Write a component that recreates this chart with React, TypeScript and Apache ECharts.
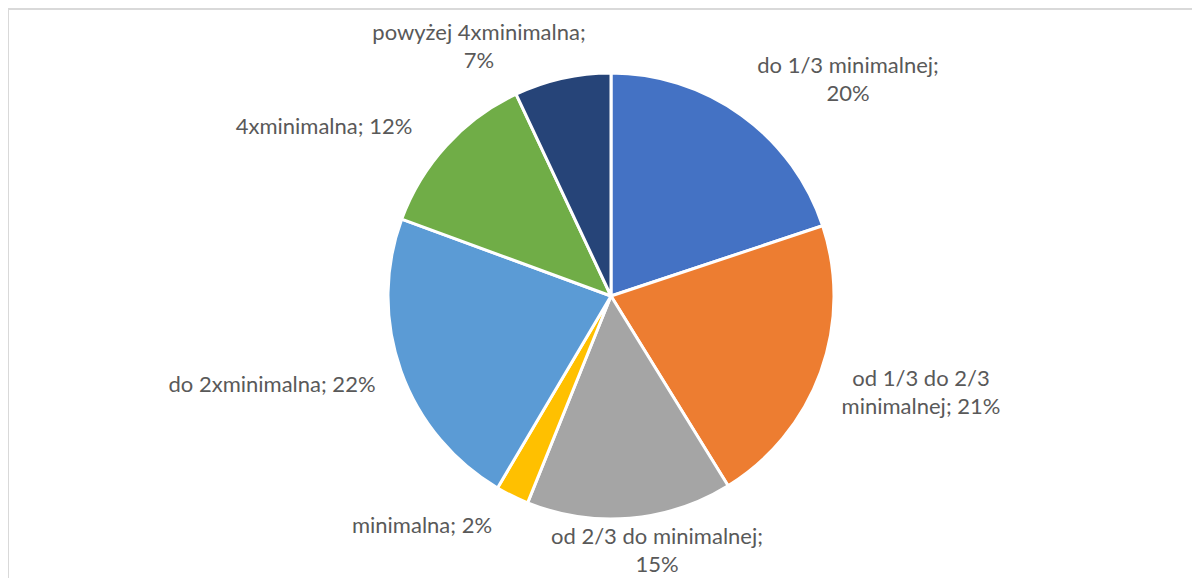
import React, { useEffect, useRef } from "react";
import * as echarts from "echarts";

const categories = [
  "do 1/3 minimalnej",
  "od 1/3 do 2/3 minimalnej",
  "od 2/3 do minimalnej",
  "minimalna",
  "do 2xminimalna",
  "4xminimalna",
  "powyżej 4xminimalna",
];
const values = [19.9, 21.3, 14.9, 2.4, 22.1, 12.4, 7.0];
const colors = ["#4472C4", "#ED7D31", "#A5A5A5", "#FFC000", "#5B9BD5", "#70AD47", "#264478"];
// label wrapping as in the reference
const displayNames = [
  "do 1/3 minimalnej",
  "od 1/3 do 2/3\nminimalnej",
  "od 2/3 do minimalnej",
  "minimalna",
  "do 2xminimalna",
  "4xminimalna",
  "powyżej 4xminimalna",
];
const separators = [";\n", "; ", ";\n", "; ", "; ", "; ", ";\n"];
// label anchor positions (layout, not data)
const labelPos: [number, number][] = [
  [848, 78],
  [921, 391],
  [657, 549],
  [422, 524],
  [272, 383],
  [324, 125],
  [479, 45],
];

export default function App() {
  const ref = useRef<HTMLDivElement>(null);
  useEffect(() => {
    if (!ref.current) return;
    const chart = echarts.init(ref.current, undefined, { renderer: "svg" });
    const total = values.reduce((a, b) => a + b, 0);
    chart.setOption({
      animation: false,
      backgroundColor: "#ffffff",
      graphic: [
        {
          type: "rect",
          shape: { x: 0, y: 1, width: 1300, height: 700 },
          style: { fill: "none", stroke: "#d9d9d9", lineWidth: 2 },
          silent: true,
        },
      ],
      series: [
        {
          type: "pie",
          center: [603, 288],
          radius: 223,
          startAngle: 90,
          clockwise: true,
          avoidLabelOverlap: false,
          itemStyle: { borderColor: "#ffffff", borderWidth: 3 },
          label: {
            show: true,
            position: "outside",
            color: "#595959",
            fontFamily: "Lato",
            fontSize: 22,
            lineHeight: 28,
            align: "center",
            formatter: (p: any) => {
              const pct = Math.round((values[p.dataIndex] / total) * 100);
              return `${displayNames[p.dataIndex]}${separators[p.dataIndex]}${pct}%`;
            },
          },
          labelLine: { show: false },
          labelLayout: (p: any) => ({
            x: labelPos[p.dataIndex][0] - 8,
            y: labelPos[p.dataIndex][1] - 8,
            align: "center",
            verticalAlign: "middle",
          }),
          data: categories.map((c, i) => ({
            name: c,
            value: values[i],
            itemStyle: { color: colors[i] },
          })),
        },
      ],
    });
    return () => chart.dispose();
  }, []);
  return <div ref={ref} style={{ width: 1184, height: 570 }} />;
}
